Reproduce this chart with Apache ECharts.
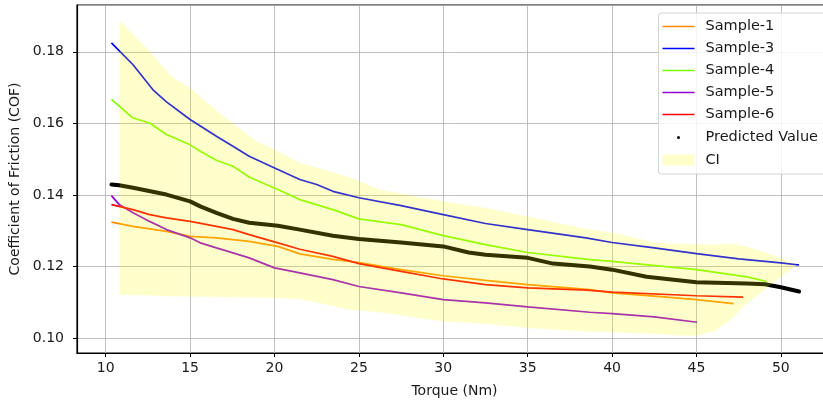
<!DOCTYPE html>
<html>
<head>
<meta charset="utf-8">
<script src="https://cdn.jsdelivr.net/npm/echarts@6/dist/echarts.min.js"></script>
<style>
html,body{margin:0;padding:0;background:#fff;}
#chart{width:823px;height:405px;}
</style>
</head>
<body>
<div id="chart"></div>
<script>
// ---- data ----
const x1 = [10.34, 11.62, 13.6, 15, 16.56, 18.5, 20.2, 21.5, 23.46, 25, 27.5, 30, 32.5, 35, 38.68, 40, 42.5, 45, 47.2];
const y1 = [0.1324, 0.1312, 0.1298, 0.1284, 0.1280, 0.1270, 0.1256, 0.1235, 0.1220, 0.1211, 0.1191, 0.1174, 0.1161, 0.1149, 0.1135, 0.1126, 0.1117, 0.1107, 0.1096];

const x3 = [10.34, 11.62, 12.8, 13.6, 15, 16.56, 17.54, 18.5, 20.2, 21.5, 22.5, 23.46, 25, 27.5, 30, 32.5, 35, 38.45, 40, 42.5, 45, 47.5, 50, 51.08];
const y3 = [0.1825, 0.1764, 0.1694, 0.1660, 0.1611, 0.1564, 0.1536, 0.1508, 0.1471, 0.1443, 0.1429, 0.1410, 0.1392, 0.1370, 0.1345, 0.1320, 0.1303, 0.1280, 0.1267, 0.1252, 0.1236, 0.1221, 0.1210, 0.1204];

const x4 = [10.34, 11.62, 12.6, 13.6, 15, 15.6, 16.56, 17.54, 18.5, 19.5, 20.2, 21.5, 23.46, 25, 27.5, 30, 32.5, 35, 38.68, 40, 45, 48, 49.15];
const y4 = [0.1667, 0.1615, 0.1601, 0.1569, 0.1540, 0.1522, 0.1497, 0.1480, 0.1450, 0.1429, 0.1415, 0.1387, 0.1359, 0.1333, 0.1317, 0.1286, 0.1261, 0.1239, 0.1219, 0.1214, 0.1191, 0.1171, 0.1158];

const x5 = [10.34, 10.8, 11.62, 12.6, 13.6, 15, 15.6, 16.56, 17.54, 18.5, 20, 21.5, 23.46, 25, 27.5, 30, 32.5, 35, 38.68, 40, 42.5, 45.04];
const y5 = [0.1398, 0.1373, 0.1350, 0.1326, 0.1303, 0.1280, 0.1266, 0.1252, 0.1238, 0.1224, 0.1196, 0.1182, 0.1163, 0.1144, 0.1126, 0.1107, 0.1098, 0.1087, 0.1072, 0.1068, 0.1059, 0.1044];

const x6 = [10.34, 11.62, 12.6, 13.6, 15, 16.56, 17.54, 18.5, 20.2, 21.5, 23.46, 25, 27.5, 30, 32.5, 35, 38.5, 40, 45, 47.77];
const y6 = [0.1373, 0.1359, 0.1345, 0.1336, 0.1326, 0.1312, 0.1303, 0.1289, 0.1266, 0.1248, 0.1228, 0.1208, 0.1186, 0.1165, 0.1149, 0.1140, 0.1134, 0.1128, 0.1118, 0.1114];

const xPred = [10.34, 10.8, 11.62, 13.6, 15, 15.6, 16.56, 17.54, 18.5, 20.2, 21.5, 23.46, 25, 27.5, 30, 31.5, 32.5, 35, 36.5, 38.68, 40, 42.04, 45, 47.97, 49.06, 50, 51.08];
const yPred = [0.1429, 0.1427, 0.1420, 0.1401, 0.1382, 0.1368, 0.1350, 0.1333, 0.1322, 0.1314, 0.1303, 0.1286, 0.1277, 0.1267, 0.1256, 0.1239, 0.1233, 0.1224, 0.1208, 0.1200, 0.1191, 0.1171, 0.1156, 0.1152, 0.1150, 0.1142, 0.1130];

const ciX     = [10.83, 12.6, 13.9, 15, 17.1, 18.93, 20, 21.5, 24.46, 26.2, 30, 32.5, 35, 38.45, 40, 42.6, 44, 45, 46, 46.8, 47.4, 47.8, 49.15, 50.1, 50.9];
const ciUpper = [0.1888, 0.1802, 0.1732, 0.1699, 0.1615, 0.1550, 0.1527, 0.1489, 0.1450, 0.1415, 0.1382, 0.1364, 0.1340, 0.1305, 0.1295, 0.1266, 0.1263, 0.1262, 0.1261, 0.1263, 0.1262, 0.1258, 0.1238, 0.1222, 0.1207];
const ciLower = [0.1121, 0.1119, 0.1117, 0.1116, 0.1114, 0.1113, 0.1112, 0.1109, 0.1079, 0.1072, 0.1046, 0.1040, 0.1028, 0.1018, 0.1016, 0.1011, 0.1007, 0.1006, 0.1018, 0.1042, 0.1068, 0.1089, 0.1140, 0.1175, 0.1203];

const sampleNames = ['Sample-1', 'Sample-3', 'Sample-4', 'Sample-5', 'Sample-6'];
const sampleColors = ['#ff8c00', '#0000ff', '#7cfc00', '#9400d3', '#ff0000'];
const xTickStep = 5;
const yTickStep = 0.02;

// ---- build options ----
const zip = (xs, ys) => xs.map((x, i) => [x, ys[i]]);
const sampleData = [zip(x1, y1), zip(x3, y3), zip(x4, y4), zip(x5, y5), zip(x6, y6)];
const FONT = 'DejaVu Sans';
const CI_COLOR = 'rgba(255,255,0,0.2)';

const series = sampleNames.map((n, i) => ({
  name: n, type: 'line', data: sampleData[i], symbol: 'none', showSymbol: false, z: 2,
  lineStyle: { color: sampleColors[i], width: 1.7 }, itemStyle: { color: sampleColors[i] }
}));
series.push({
  name: 'Predicted Value', type: 'line', data: zip(xPred, yPred), symbol: 'none', showSymbol: false, z: 3,
  lineStyle: { color: '#000', width: 4, cap: 'round', join: 'round' }, itemStyle: { color: '#000' }
});
series.push({
  name: 'CI', type: 'custom', z: 4, silent: true,
  itemStyle: { color: CI_COLOR },
  data: ciX.map((x, i) => [x, ciLower[i], ciUpper[i]]),
  encode: { x: 0, y: [1, 2] },
  renderItem: function (params, api) {
    if (params.dataIndex !== 0) return null;
    const pts = [];
    for (let i = 0; i < ciX.length; i++) pts.push(api.coord([ciX[i], ciUpper[i]]));
    for (let i = ciX.length - 1; i >= 0; i--) pts.push(api.coord([ciX[i], ciLower[i]]));
    return { type: 'polygon', shape: { points: pts }, style: { fill: CI_COLOR } };
  }
});

const legendText = { fontFamily: FONT, fontSize: 14.5, color: '#1a1a1a', padding: [0, 0, 0, 6] };
const lineIcon = 'path://M0,0H32V1.7H0Z';

const option = {
  animation: false,
  backgroundColor: '#fff',
  textStyle: { fontFamily: FONT },
  grid: { left: 77, right: -9, top: 5, bottom: 52, outerBoundsMode: 'none', containLabel: false,
    show: true, borderColor: '#000', borderWidth: 1.2, backgroundColor: 'transparent' },
  graphic: [{
    type: 'rect', left: 658, top: 12.5, z: 3,
    shape: { width: 175, height: 161, r: 3 },
    style: { fill: 'rgba(255,255,255,0.8)', stroke: '#d4d4d4', lineWidth: 1 }
  }],
  legend: [
    { data: sampleNames.map(n => ({ name: n, icon: lineIcon })), orient: 'vertical', left: 662.5, top: 19, padding: 0,
      itemWidth: 32, itemHeight: 14, itemGap: 7, textStyle: legendText, z: 5 },
    { data: [{ name: 'Predicted Value', icon: 'circle' }], orient: 'vertical', left: 677, top: 130, padding: 0,
      itemWidth: 32, itemHeight: 3, textStyle: legendText, z: 5 },
    { data: [{ name: 'CI', icon: 'rect' }], orient: 'vertical', left: 662.5, top: 152.6, padding: 0,
      itemWidth: 32, itemHeight: 11, textStyle: legendText, z: 5 }
  ],
  xAxis: {
    type: 'value', min: 8.3, max: 53.03, splitNumber: 9,
    name: 'Torque (Nm)', nameLocation: 'middle', nameGap: 31,
    nameTextStyle: { fontFamily: FONT, fontSize: 14, color: '#1a1a1a' },
    axisLine: { show: true, lineStyle: { color: '#000', width: 1.2 } },
    axisTick: { show: true, length: 4, lineStyle: { color: '#000' } },
    axisLabel: { fontFamily: FONT, fontSize: 14, color: '#1a1a1a', margin: 8, showMinLabel: false, showMaxLabel: false,
      formatter: v => (Math.abs(v / xTickStep - Math.round(v / xTickStep)) < 1e-6 ? String(Math.round(v)) : '') },
    splitLine: { show: true, lineStyle: { color: '#b0b0b0', width: 0.8 } }
  },
  yAxis: {
    type: 'value', min: 0.0958, max: 0.1931, splitNumber: 5,
    name: 'Coefficient of Friction (COF)', nameLocation: 'middle', nameGap: 49,
    nameTextStyle: { fontFamily: FONT, fontSize: 14, color: '#1a1a1a' },
    axisLine: { show: true, lineStyle: { color: '#000', width: 1.2 } },
    axisTick: { show: true, length: 4, lineStyle: { color: '#000' } },
    axisLabel: { fontFamily: FONT, fontSize: 14, color: '#1a1a1a', margin: 13, showMinLabel: false, showMaxLabel: false,
      formatter: v => (Math.abs(v / yTickStep - Math.round(v / yTickStep)) < 1e-6 ? v.toFixed(2) : '') },
    splitLine: { show: true, lineStyle: { color: '#b0b0b0', width: 0.8 } }
  },
  series: series
};

const chart = echarts.init(document.getElementById('chart'), null, { renderer: 'canvas' });
chart.setOption(option);
</script>
</body>
</html>
